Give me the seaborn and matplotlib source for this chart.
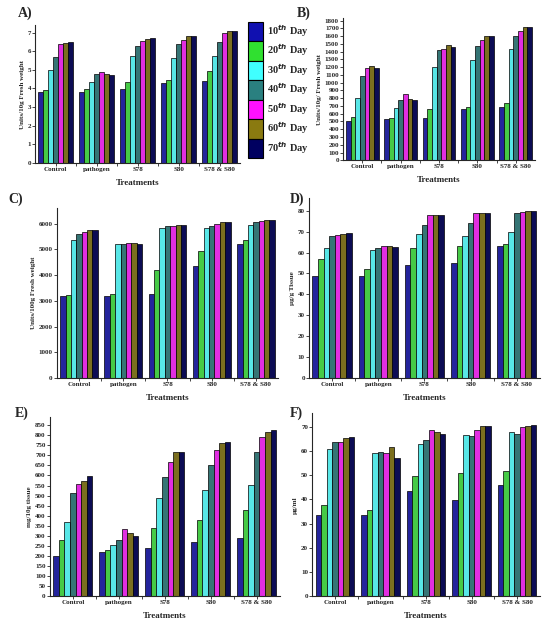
import numpy as np
import pandas as pd
import seaborn as sns
import matplotlib.pyplot as plt
from matplotlib.patches import Patch

treatments = ["Control", "pathogen", "S78", "S80", "S78 & S80"]
days = ["10$^{th}$ Day", "20$^{th}$ Day", "30$^{th}$ Day", "40$^{th}$ Day",
        "50$^{th}$ Day", "60$^{th}$ Day", "70$^{th}$ Day"]
day_colors = ["#1010b0", "#30e030", "#40ffff", "#2a8080", "#ff10ff", "#8a7a10", "#000060"]

# one row per treatment, one value per day
vals_a = [[3.8, 3.9, 5.0, 5.7, 6.4, 6.45, 6.5],
          [3.8, 3.95, 4.35, 4.8, 4.9, 4.8, 4.7],
          [3.95, 4.35, 5.75, 6.3, 6.55, 6.65, 6.7],
          [4.3, 4.45, 5.65, 6.4, 6.6, 6.8, 6.8],
          [4.4, 4.95, 5.75, 6.5, 7.0, 7.1, 7.1]]
vals_b = [[510, 553, 808, 1089, 1183, 1213, 1183],
          [536, 545, 680, 779, 851, 791, 779],
          [545, 664, 1204, 1417, 1438, 1480, 1460],
          [664, 689, 1289, 1472, 1545, 1608, 1608],
          [681, 736, 1438, 1608, 1660, 1715, 1723]]
vals_c = [[3170, 3240, 5380, 5600, 5690, 5750, 5750],
          [3200, 3250, 5200, 5200, 5230, 5230, 5200],
          [3250, 4200, 5850, 5900, 5920, 5950, 5950],
          [4350, 4950, 5850, 5900, 6000, 6050, 6050],
          [5200, 5350, 5950, 6080, 6100, 6150, 6150]]
vals_d = [[49, 57, 62, 68, 68.5, 69, 69.5],
          [49, 52, 61, 62, 63, 63, 62.5],
          [54, 62, 69, 73, 78, 78, 78],
          [55, 63, 68, 74, 79, 79, 79],
          [63, 64, 70, 79, 79.5, 80, 80]]
vals_e = [[198, 280, 370, 512, 557, 573, 598],
          [220, 232, 253, 278, 332, 312, 298],
          [240, 340, 487, 590, 667, 715, 715],
          [270, 378, 528, 650, 727, 762, 765],
          [290, 428, 553, 715, 792, 817, 825]]
vals_f = [[33.4, 37.8, 60.8, 63.8, 63.8, 65.6, 65.9],
          [33.7, 35.8, 59.0, 59.7, 59.0, 61.6, 57.2],
          [43.4, 49.7, 63.0, 64.6, 68.6, 67.7, 66.9],
          [39.6, 51.1, 66.6, 66.3, 68.8, 70.2, 70.2],
          [45.9, 51.7, 67.7, 67.0, 69.9, 70.4, 70.7]]

sns.set_style("ticks")
plt.rcParams["font.family"] = ["Liberation Serif", "DejaVu Serif"]
plt.rcParams["font.weight"] = "bold"
plt.rcParams["mathtext.fontset"] = "custom"
plt.rcParams["mathtext.rm"] = "Liberation Serif:bold"

fig = plt.figure(figsize=(5.42, 6.31), dpi=100)

panels = [
    ("A)", vals_a, [0.065, 0.742, 0.378, 0.218], 7.4, np.arange(0, 8, 1), "Units/10g Fresh weight", (0.033, 0.99)),
    ("B)", vals_b, [0.633, 0.746, 0.354, 0.225], 1830, np.arange(0, 1900, 100), "Units/10g/ Fresh weight", (0.548, 0.99)),
    ("C)", vals_c, [0.105, 0.401, 0.408, 0.269], 6600, np.arange(0, 7000, 1000), "Units/100g Fresh weight", (0.015, 0.695)),
    ("D)", vals_d, [0.570, 0.401, 0.426, 0.285], 86, np.arange(0, 90, 10), "\u00b5g/g Tissue", (0.535, 0.695)),
    ("E)", vals_e, [0.092, 0.055, 0.424, 0.284], 890, np.arange(0, 900, 50), "mg/10g tissue", (0.028, 0.355)),
    ("F)", vals_f, [0.576, 0.055, 0.420, 0.290], 75.6, np.arange(0, 80, 10), "\u00b5g/ml", (0.535, 0.355)),
]

for label, vals, rect, ymax, yticks, ylab, lpos in panels:
    ax = fig.add_axes(rect)
    df = pd.DataFrame(vals, index=treatments, columns=days).reset_index(names="Treatment")
    df = df.melt(id_vars="Treatment", var_name="Day", value_name="value")
    sns.barplot(data=df, x="Treatment", y="value", hue="Day", palette=day_colors,
                edgecolor="black", linewidth=0.5, width=0.85, ax=ax, legend=False)
    ax.set_ylim(0, ymax)
    ax.set_xlim(-0.5, 4.5)
    ax.set_yticks(yticks)
    ax.set_xticks(np.arange(0.5, 4.5, 1), minor=True)
    ax.tick_params(axis="both", labelsize=5, length=2, width=0.6, pad=1)
    ax.tick_params(axis="x", which="minor", length=2, width=0.6)
    ax.set_xlabel("Treatments", fontsize=6.5, fontweight="bold", labelpad=5)
    ax.set_ylabel(ylab, fontsize=5, fontweight="bold", labelpad=2)
    sns.despine(ax=ax)
    for s in ["left", "bottom"]:
        ax.spines[s].set_linewidth(0.8)
    fig.text(lpos[0], lpos[1], label, fontsize=10, fontweight="bold", va="top")

handles = [Patch(facecolor=c, edgecolor="black", linewidth=0.8) for c in day_colors]
fig.legend(handles, days, loc="upper left", bbox_to_anchor=(248 / 542, 1 - 22 / 631),
           frameon=False, fontsize=7.5, handlelength=1.45, handleheight=2.5,
           labelspacing=0.0, handletextpad=0.4, borderpad=0, borderaxespad=0)

fig.savefig("out.png", dpi=100)
